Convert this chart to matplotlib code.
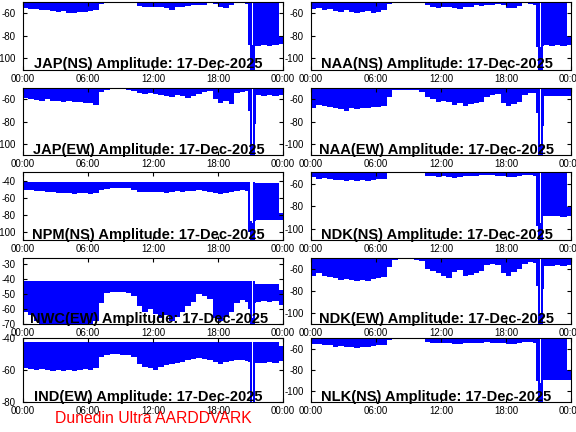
import numpy as np
import matplotlib
matplotlib.use('Agg')
import matplotlib.pyplot as plt
from matplotlib.ticker import MultipleLocator

plt.rcParams['font.family'] = ['Liberation Sans', 'DejaVu Sans']
plt.rcParams['axes.unicode_minus'] = False

nan = np.nan

# Time slot edges, hours UT (finer around the 21h dropout)
hours = [0, 0.5, 1, 1.5, 2, 2.5, 3, 3.5, 4, 4.5, 5, 5.5, 6, 6.5, 7, 7.5, 8, 8.5,
         9, 9.5, 10, 10.5, 11, 11.5, 12, 12.5, 13, 13.5, 14, 14.5, 15, 15.5, 16,
         16.5, 17, 17.5, 18, 18.5, 19, 19.5, 20, 20.5, 20.8, 20.95, 21.1, 21.25,
         21.4, 21.5, 22, 22.5, 23, 23.6, 24]
time_labels = ['00:00', '06:00', '12:00', '18:00', '00:00']

# Lower / upper envelope (dB) for each slot
jap_ns_lo = [-55.5, -56, -56.5, -57, -57.5, -58, -59, -58, -59.5, -60, -58.5, -59, -58, -57.5,
             -52, -49, -49, -49, -49, -49, -51, -53.5, -54, -54.5, -54, -54.5, -55, -57,
             -54, -54, -53.5, -53, -53, -52.5, -51, -52, -54, -55, -53, -50.5, -51, -52,
             -88, -112, -112, -112, -89, -89, -88.5, -89, -88.5, -87]
jap_ns_hi = [-45] * 44 + [-88] + [-45] * 6 + [-80]

naa_ns_lo = [-56, -55.5, -57, -56.5, -58, -58.5, -57.5, -59, -60, -59, -58, -59.5, -58.5, -57,
             -52, -49, -49, -49, -49, -49, -51, -53, -54, -55, -54.5, -54, -55.5, -56,
             -54.5, -54, -53, -53.5, -52.5, -53, -51.5, -52.5, -55, -55.5, -53.5, -51, -51.5,
             -52.5, -90, -112, -112, -112, -89.5, -88.5, -89, -88.5, -89, -88]
naa_ns_hi = [-45] * 44 + [-90] + [-45] * 6 + [-80]

jap_ew_lo = [-59, -60, -60.5, -61, -60, -61.5, -61, -62, -61.5, -62.5, -62, -63, -63.5, -65,
             -53, -51.5, -51, -51, -51, -51.5, -52.5, -54, -55, -54.5, -55.5, -56, -57, -58,
             -56, -57, -58.5, -57, -55, -53, -52, -60, -63, -61, -64, -54, -53, -52.5,
             -70, -112, -112, -112, -82, -56, -56.5, -56, -56.5, -56]
jap_ew_hi = [-45] * 44 + [-100] + [-45] * 7

naa_ew_lo = [-68, -65, -66, -67, -68, -69, -70, -68, -69, -68, -67.5, -67, -66.5, -65.5,
             -58, -51.5, -51.5, -51.5, -51.5, -51.5, -53, -58, -60, -62, -61, -62, -65, -63,
             -66, -64, -63, -62, -58, -56, -55, -63, -66, -64, -62, -56, -54.5, -54,
             -72, -112, -112, -112, -84, -57, -57, -56.5, -57, -56.5]
naa_ew_hi = [-45] * 44 + [-100] + [-45] * 7

npm_ns_lo = [-51, -51.5, -52, -52, -53, -53.5, -54, -54.5, -55, -55.5, -55, -54.5, -55.5, -55,
             -51, -49.5, -49, -48.5, -48.5, -49, -51, -53, -53.5, -53, -53.5, -53, -54, -53,
             -52.5, -53, -52, -52, -51.5, -52, -53.5, -55, -55.5, -54, -53, -52, -51.5, -52,
             -100, -112, -112, -112, -87, -86.5, -86.5, -86.5, -86, -86.5]
npm_ns_hi = [-41] * 43 + [-88, -90, -42] + [-42.5] * 5 + [-78.5]

ndk_ns_lo = [-54.5, -55.5, -55, -56, -57, -56.5, -57.5, -57, -58, -57, -57.5, -56.5, -56, -55.5,
             -51, -49, -49, -49, -49, -49, -51, -53, -53.5, -54, -53.5, -54, -55, -54,
             -53, -53.5, -53, -52.5, -52, -52.5, -53, -53.5, -54.5, -54, -53.5, -52, -52, -53,
             -98, -112, -112, -112, -89, -89, -88.5, -89, -89.5, -89]
ndk_ns_hi = [-45] * 44 + [-95] + [-45] * 6 + [-81]

nwc_ew_lo = [-62, -64, -68, -70, -70, -70, -70, -70, -70, -70, -70, -70, -70, -68,
             -56, -49, -48.5, -48.5, -48.5, -49, -51, -58, -62, -60, -63, -66, -64, -68,
             -65, -62, -58, -55, -50, -51, -53, -66, -68, -65, -62, -56, -54, -55,
             -60, -70, -70, -70, -56, -55, -54.5, -55, -54.5, -57]
nwc_ew_hi = [-41.5] * 42 + [-41, -41, -66, -41] + [-43] * 5 + [-47]

ndk_ew_lo = [-66, -64, -66, -67, -68, -70, -69, -70, -71, -70, -70.5, -69, -68.5, -67,
             -58, -51.5, -51, -51, -51, -51.5, -53, -60, -62, -64, -66, -68, -63, -61,
             -66, -65, -64, -62, -56, -55, -56, -64, -66, -63, -60, -55, -54, -54.5,
             -75, -112, -112, -112, -78, -57, -57, -56.5, -57, -56.5]
ndk_ew_hi = [-45] * 44 + [-100] + [-45] * 7

ind_ew_lo = [-59, -59.5, -60, -59.5, -60, -60.5, -60, -60.5, -60, -60.5, -60, -59.5, -60, -59,
             -52, -50.5, -50, -50, -50.5, -50.5, -52, -56, -58, -59, -60, -58, -57, -56,
             -55.5, -55, -54, -53, -52.5, -53, -53.5, -55, -56, -55, -54.5, -54, -54, -54.5,
             -55, -82, nan, -82, -55.5, -55.5, -55.5, -55, -55.5, -54.5]
ind_ew_hi = [-42.5] * 44 + [nan] + [-42.5] * 6 + [-45]

nlk_ns_lo = [-55.5, -56, -56.5, -57, -58, -57.5, -58.5, -58, -59, -58.5, -58, -57.5, -57, -56.5,
             -52, -49, -49, -49, -49, -49, -51, -54, -54.5, -55, -54.5, -55, -55.5, -56,
             -55, -54.5, -55, -54.5, -54, -54.5, -55, -54.5, -55.5, -56, -55, -54, -54, -55,
             -90, -112, -112, -112, -89, -89, -89, -89, -89.5, -89]
nlk_ns_hi = [-45] * 44 + [-92] + [-45] * 6 + [-80]

# Panel layout in pixels of a 576x432 figure: (top, bottom) per row, left per column
row_px = [(2, 69.5), (88.3, 155), (172.3, 240), (258, 324), (338, 402)]
col_px = [23, 311]
width_px = 260


def make_axes(fig, row, col):
    top, bottom = row_px[row]
    return fig.add_axes([col_px[col] / 576, 1 - bottom / 432,
                         width_px / 576, (bottom - top) / 432])


# One amplitude panel: min-max band drawn as steps, split where there is no data
def draw_panel(ax, lo, hi, ymin, ymax, step, label):
    edges = np.asarray(hours, dtype=float)
    lo = np.asarray(lo, dtype=float)
    hi = np.asarray(hi, dtype=float)
    n = len(lo)
    i = 0
    while i < n:
        if np.isnan(lo[i]):
            i += 1
            continue
        j = i
        while j < n and not np.isnan(lo[j]):
            j += 1
        ax.fill_between(edges[i:j + 1], np.append(lo[i:j], lo[j - 1]),
                        np.append(hi[i:j], hi[j - 1]), step='post',
                        color='blue', linewidth=0)
        i = j
    ax.set_xlim(0, 24)
    ax.set_ylim(ymin, ymax)
    ax.set_xticks([0, 6, 12, 18, 24])
    ax.set_xticklabels(time_labels)
    ax.yaxis.set_major_locator(MultipleLocator(step))
    ax.tick_params(direction='in', length=3, labelsize=7, top=True, right=True)
    ax.tick_params(axis='x', pad=3)
    ax.tick_params(axis='y', pad=5)
    for s in ax.spines.values():
        s.set_linewidth(0.8)
    ax.text(0.483, 0.02, f'{label} Amplitude: 17-Dec-2025', transform=ax.transAxes,
            ha='center', va='baseline', fontsize=10.5, fontweight='bold', zorder=5)


def main():
    fig = plt.figure(figsize=(5.76, 4.32), dpi=100)
    panels = [
        (0, 0, jap_ns_lo, jap_ns_hi, -110, -50, 20, 'JAP(NS)'),
        (0, 1, naa_ns_lo, naa_ns_hi, -110, -50, 20, 'NAA(NS)'),
        (1, 0, jap_ew_lo, jap_ew_hi, -110, -50, 20, 'JAP(EW)'),
        (1, 1, naa_ew_lo, naa_ew_hi, -110, -50, 20, 'NAA(EW)'),
        (2, 0, npm_ns_lo, npm_ns_hi, -110, -30, 20, 'NPM(NS)'),
        (2, 1, ndk_ns_lo, ndk_ns_hi, -110, -50, 20, 'NDK(NS)'),
        (3, 0, nwc_ew_lo, nwc_ew_hi, -70, -26, 10, 'NWC(EW)'),
        (3, 1, ndk_ew_lo, ndk_ew_hi, -110, -50, 20, 'NDK(EW)'),
        (4, 0, ind_ew_lo, ind_ew_hi, -80, -40, 20, 'IND(EW)'),
        (4, 1, nlk_ns_lo, nlk_ns_hi, -110, -50, 20, 'NLK(NS)'),
    ]
    for row, col, lo, hi, ymin, ymax, step, label in panels:
        ax = make_axes(fig, row, col)
        draw_panel(ax, lo, hi, ymin, ymax, step, label)

    fig.text(0.266, 0.0215, 'Dunedin Ultra AARDDVARK', color='red', fontsize=11.3,
             ha='center', va='baseline')
    fig.savefig('out.png', dpi=100)


if __name__ == '__main__':
    main()
